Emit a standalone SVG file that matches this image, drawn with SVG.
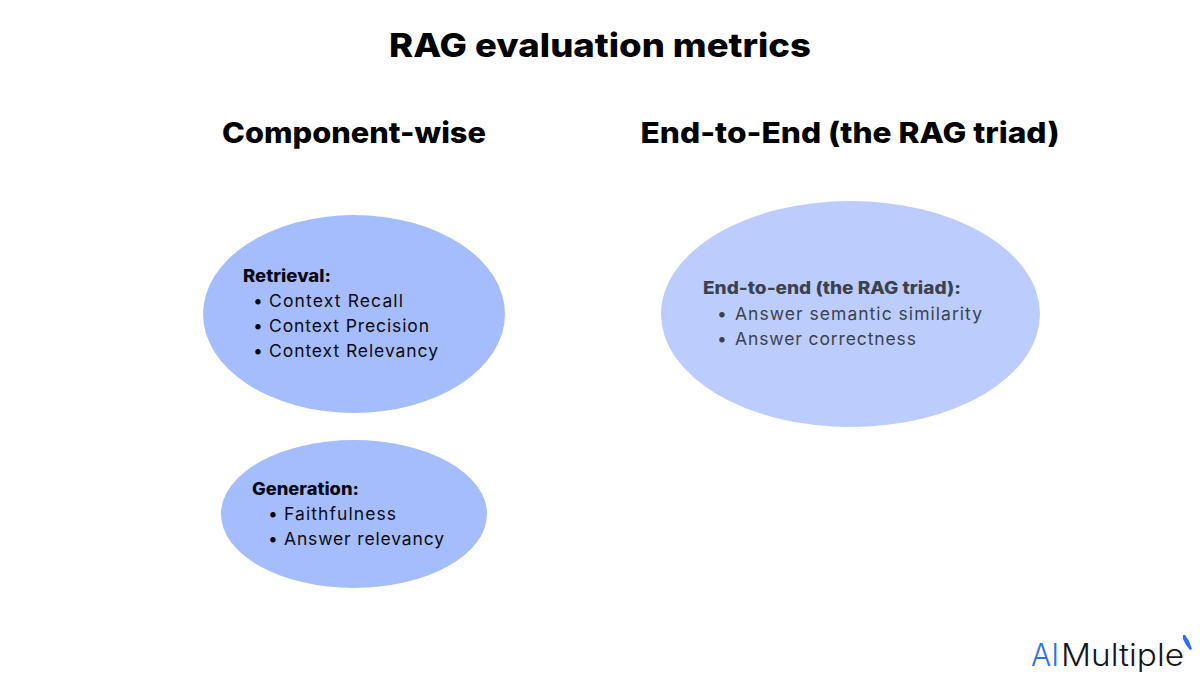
<svg xmlns="http://www.w3.org/2000/svg" width="1200" height="675" viewBox="0 0 1200 675">
<style>
text{font-family:Inter,"Noto Sans","Liberation Sans",sans-serif}
.h1{font-size:33px;font-weight:800;fill:#000;text-anchor:middle}
.h2{font-size:29px;font-weight:800;fill:#000;text-anchor:middle}
.b{font-size:17px;font-weight:800}
.t{font-size:17.5px;font-weight:400}
.k{fill:#0a0a14}
.g{fill:#3c4150}
.e1{fill:#a6bdfd}
.e2{fill:#bccdfd}
</style>
<rect width="1200" height="675" fill="#fff"/>
<text id="title" class="h1" x="600" y="57" textLength="422" lengthAdjust="spacingAndGlyphs">RAG evaluation metrics</text>
<text id="head-left" class="h2" x="354" y="143" textLength="264" lengthAdjust="spacingAndGlyphs">Component-wise</text>
<text id="head-right" class="h2" x="850" y="143" textLength="419" lengthAdjust="spacingAndGlyphs">End-to-End (the RAG triad)</text>
<g id="node-retrieval">
<ellipse class="e1" cx="354" cy="314" rx="151" ry="99"/>
<text class="b k" x="243" y="282" textLength="88" lengthAdjust="spacingAndGlyphs">Retrieval:</text>
<text class="t k" x="253" y="307">•</text><text class="t k" x="269" y="307" textLength="134" lengthAdjust="spacing">Context Recall</text>
<text class="t k" x="253" y="332">•</text><text class="t k" x="269" y="332" textLength="160" lengthAdjust="spacing">Context Precision</text>
<text class="t k" x="253" y="357">•</text><text class="t k" x="269" y="357" textLength="169" lengthAdjust="spacing">Context Relevancy</text>
</g>
<g id="node-generation">
<ellipse class="e1" cx="354" cy="514" rx="133" ry="74"/>
<text class="b k" x="252" y="495" textLength="107" lengthAdjust="spacingAndGlyphs">Generation:</text>
<text class="t k" x="268" y="520">•</text><text class="t k" x="284" y="520" textLength="112" lengthAdjust="spacing">Faithfulness</text>
<text class="t k" x="268" y="545">•</text><text class="t k" x="284" y="545" textLength="160" lengthAdjust="spacing">Answer relevancy</text>
</g>
<g id="node-triad">
<ellipse class="e2" cx="850.5" cy="314" rx="189.5" ry="113"/>
<text class="b g" x="703" y="294" textLength="258" lengthAdjust="spacingAndGlyphs">End-to-end (the RAG triad):</text>
<text class="t g" x="717" y="319.5">•</text><text class="t g" x="735" y="319.5" textLength="247" lengthAdjust="spacing">Answer semantic similarity</text>
<text class="t g" x="717" y="344.5">•</text><text class="t g" x="735" y="344.5" textLength="181" lengthAdjust="spacing">Answer correctness</text>
</g>
<g id="connectors"></g>
<g id="logo">
<text x="1031" y="666" font-size="31" font-weight="300" fill="#2f6fed" textLength="28" lengthAdjust="spacingAndGlyphs">AI</text>
<text x="1061" y="666" font-size="31" font-weight="300" fill="#15171c" textLength="123" lengthAdjust="spacingAndGlyphs">Multiple</text>
<path d="M1183 635l2 0 4 6 3 8-2 1-4-5-3-6z" fill="#2f6fed"/>
</g>
</svg>
